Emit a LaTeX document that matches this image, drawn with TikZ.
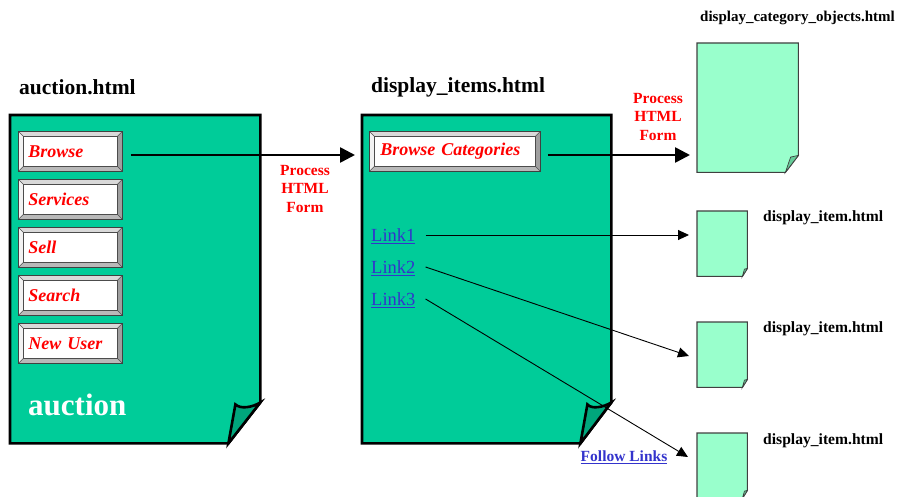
\documentclass[tikz,border=0pt]{standalone}
\usepackage{fontspec}
\setmainfont{Liberation Serif}
\usetikzlibrary{arrows.meta,calc}
\definecolor{pg}{HTML}{00CC99}
\definecolor{flapc}{HTML}{00A67C}
\definecolor{lpg}{HTML}{99FFCC}
\definecolor{lflap}{HTML}{66CC99}
\definecolor{lnk}{HTML}{3333CC}
\newcommand\fs[1]{\fontsize{#1}{#1}\selectfont}
\newcommand\bigpage[6]{% name,x,y,w,h,(fold dx)
  \node[inner sep=0pt, minimum width=#4pt, minimum height=#5pt, anchor=north west] (#1) at (#2,#3) {};
  \draw[bigpg] (#1.north west) -- (#1.north east) -- ($(#1.south east)+(0,-41)$) -- ($(#1.south east)+(-#6,0)$) -- (#1.south west) -- cycle;
  \draw[bigpg, fill=flapc] ($(#1.south east)+(-#6,0)$) -- ($(#1.south east)+(-#6+7,-39)$) .. controls ($(#1.south east)+(-20,-34)$) and ($(#1.south east)+(-8,-36)$) .. ($(#1.south east)+(0,-41)$) -- cycle;
}
\newcommand\smallpage[7]{% name,x,y,w,h,fold dx, fold dy
  \node[inner sep=0pt, minimum width=#4pt, minimum height=#5pt, anchor=north west] (#1) at (#2,#3) {};
  \draw[smallpg] (#1.north west) -- (#1.north east) -- ($(#1.south east)+(0,-#7)$) -- ($(#1.south east)+(-#6,0)$) -- (#1.south west) -- cycle;
  \draw[smallpg, fill=lflap, line width=0.7pt] ($(#1.south east)+(-#6,0)$) -- ($(#1.south east)+(-#6*0.6,-#7*0.9)$) -- ($(#1.south east)+(0,-#7)$) -- cycle;
}
\begin{document}
\begin{tikzpicture}[x=1pt,y=-1pt,
  bigpg/.style={draw=black, line width=2.6pt, fill=pg, line join=miter},
  smallpg/.style={draw=black!75, line width=1.1pt, fill=lpg},
  title/.style={font=\bfseries\fs{21.5}, inner sep=0pt, anchor=west},
  rtitle/.style={font=\bfseries\fs{15}, inner sep=0pt, anchor=west},
  proc/.style={font=\bfseries\fs{15.5}, text=red, align=center, inner sep=0pt},
  linkst/.style={font=\fs{18.5}, text=lnk, inner sep=0pt, anchor=west},
  thick arrow/.style={line width=2.6pt, -{Triangle[length=15pt,width=15pt]}},
  thin arrow/.style={line width=0.9pt, -{Triangle[length=11pt,width=10pt]}},
  btn/.style={fill=white, draw=black!75, line width=0.8pt, inner xsep=10pt, inner ysep=0pt,
    minimum height=40pt, anchor=north west, align=left, text=red, font=\bfseries\itshape\fs{18},
    path picture={
      \coordinate (nw) at (path picture bounding box.north west);
      \coordinate (ne) at (path picture bounding box.north east);
      \coordinate (sw) at (path picture bounding box.south west);
      \coordinate (se) at (path picture bounding box.south east);
      \fill[gray!30] (nw) -- (ne) -- ($(ne)+(-5,5)$) -- ($(nw)+(5,5)$) -- cycle;
      \fill[gray!10] (nw) -- ($(nw)+(5,5)$) -- ($(sw)+(5,-5)$) -- (sw) -- cycle;
      \fill[gray!75] (ne) -- (se) -- ($(se)+(-5,-5)$) -- ($(ne)+(-5,5)$) -- cycle;
      \fill[gray!55] (sw) -- (se) -- ($(se)+(-5,-5)$) -- ($(sw)+(5,-5)$) -- cycle;
      \draw[black!70, line width=0.5pt] ($(nw)+(5,5)$) rectangle ($(se)+(-5,-5)$);
      \draw[black!70, line width=0.5pt] (nw) -- ($(nw)+(5,5)$) (ne) -- ($(ne)+(-5,5)$)
        (sw) -- ($(sw)+(5,-5)$) (se) -- ($(se)+(-5,-5)$);
    }}
]
\useasboundingbox (0,0) rectangle (908,497);

% titles
\node[title] (tauc) at (19,87) {auction.html};
\node[title] (tdisp) at (371,87) {display\_items.html};
\node[rtitle] (tcat) at (700,18) {display\_category\_objects.html};

% big pages
\bigpage{auc}{10}{115}{250}{328}{32}
\bigpage{disp}{362}{115}{249}{328}{31}

% buttons on auction page
\node[btn, text width=84pt] (b1) at (18,131) {Browse};
\node[btn, text width=84pt] (b2) at (18,179) {Services};
\node[btn, text width=84pt] (b3) at (18,227) {Sell};
\node[btn, text width=84pt] (b4) at (18,275) {Search};
\node[btn, text width=84pt] (b5) at (18,323) {New User};
\node[font=\bfseries\fs{31}, text=white, inner sep=0pt, anchor=base west] (aucl) at (28,415) {auction};

% button on display_items page
\node[btn, text width=149pt, inner xsep=11pt] (bc) at (369,131) {Browse Categories};

% links
\node[linkst] (l1) at (371,236) {\underline{Link1}};
\node[linkst] (l2) at (371,268) {\underline{Link2}};
\node[linkst] (l3) at (371,300) {\underline{Link3}};

% right pages
\smallpage{cat}{697}{43}{101}{129}{13}{17}
\smallpage{it1}{697}{211}{50}{65}{5}{8}
\smallpage{it2}{697}{322}{50}{65}{5}{8}
\smallpage{it3}{697}{433}{50}{65}{5}{8}
\node[rtitle, font=\bfseries\fs{15.6}] (ti1) at (763,218) {display\_item.html};
\node[rtitle, font=\bfseries\fs{15.6}] (ti2) at (763,329) {display\_item.html};
\node[rtitle, font=\bfseries\fs{15.6}] (ti3) at (763,441) {display\_item.html};

% process labels
\node[proc] (p1) at (305,189) {Process\\[3pt]HTML\\[3pt]Form};
\node[proc] (p2) at (658,117) {Process\\[3pt]HTML\\[3pt]Form};

% thick arrows
\coordinate (a1s) at ([xshift=8pt]b1.east |- 0,155);
\coordinate (a2s) at ([xshift=7pt]bc.east |- 0,155);
\draw[thick arrow] (a1s) -- ($(disp.north west)+(-7,40)$);
\draw[thick arrow] (a2s) -- ($(cat.north west)+(-7,112)$);

% link arrows
\draw[thin arrow] ([xshift=10pt]l1.east |- 0,235) -- ($(it1.north west)+(-8,24)$);
\draw[thin arrow] ([xshift=10pt]l2.east |- 0,267) -- ($(it2.north west)+(-8,34)$);
\draw[thin arrow] ([xshift=10pt]l3.east |- 0,299) -- ($(it3.north west)+(-9,24)$);

\node[font=\bfseries\fs{15.5}, text=lnk, inner sep=0pt] (fl) at (624,457) {\underline{Follow Links}};
\end{tikzpicture}
\end{document}
